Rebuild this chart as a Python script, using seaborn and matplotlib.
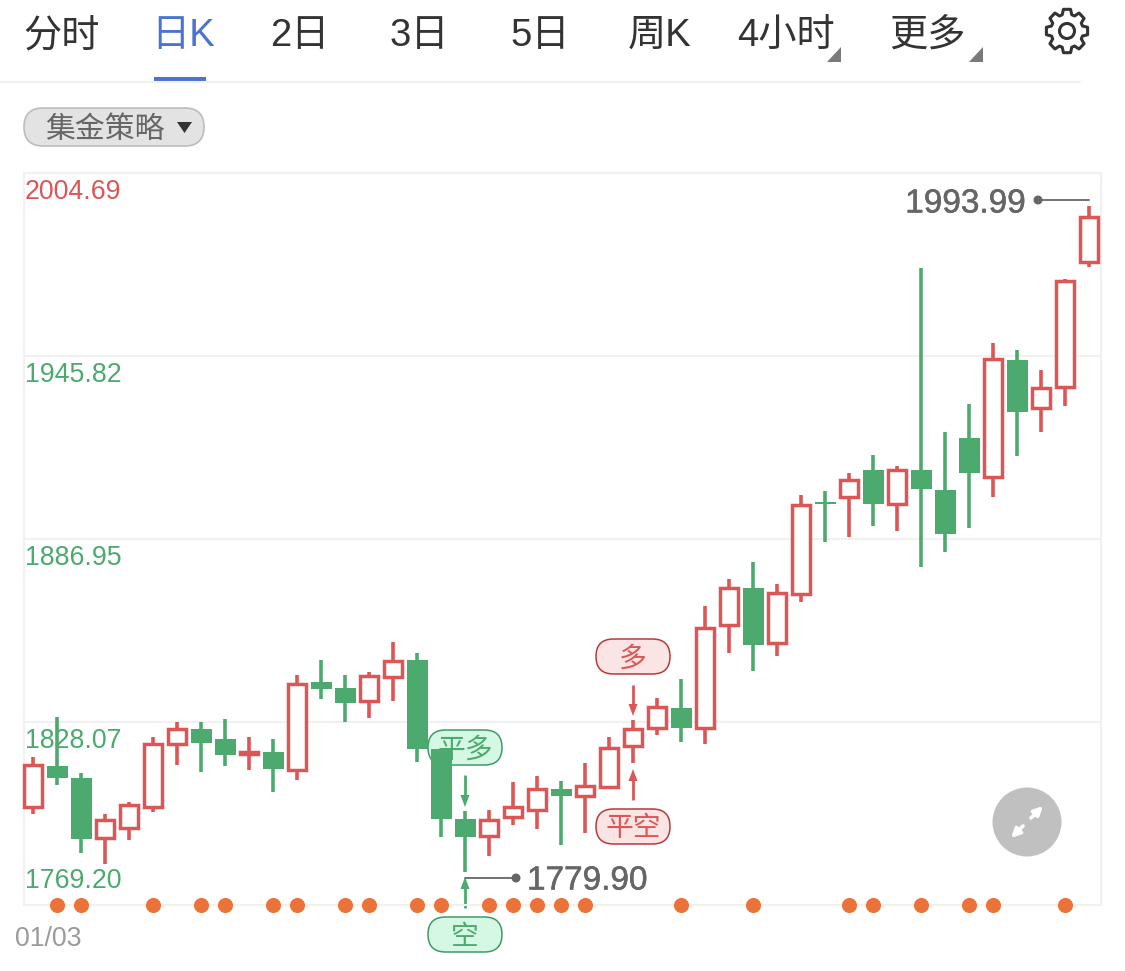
import numpy as np
import pandas as pd
import matplotlib
matplotlib.use("Agg")
import matplotlib.pyplot as plt
import matplotlib.patheffects as pe
from matplotlib.patches import FancyBboxPatch, Polygon, Circle
import seaborn as sns

# ---------- data ----------
highs = [1816.8,1829.7,1811.7,1798.5,1802.3,1823.2,1828.1,1828.1,1829.0,1823.2,1822.6,1843.2,1848.0,1843.2,1844.2,
         1853.8,1850.3,1819.4,1799.4,1799.8,1808.8,1810.7,1809.1,1814.9,1823.2,1828.7,1835.8,1841.9,1865.4,1874.1,
         1879.5,1872.5,1901.1,1902.4,1908.2,1914.0,1910.4,1974.1,1921.4,1930.4,1950.0,1947.7,1941.3,1970.6,1993.99]
lows = [1798.5,1807.8,1785.9,1782.4,1790.1,1799.1,1814.2,1812.0,1813.9,1812.6,1805.6,1809.4,1835.5,1828.1,1829.4,
        1834.8,1815.2,1791.1,1779.90,1785.0,1794.9,1793.6,1788.5,1792.4,1806.8,1814.9,1823.9,1821.6,1821.0,1850.3,
        1844.5,1849.3,1866.7,1886.0,1887.6,1891.1,1889.5,1877.9,1882.8,1890.5,1900.5,1913.6,1921.4,1929.7,1974.4]
body_tops = [1814.6,1813.9,1810.1,1796.9,1801.7,1821.3,1826.1,1825.8,1822.6,1818.7,1818.4,1840.6,1840.9,1839.0,1843.2,
             1848.0,1848.0,1819.4,1796.9,1796.9,1801.0,1806.8,1806.5,1807.8,1820.0,1826.1,1833.2,1832.6,1858.6,1871.5,
             1871.2,1869.9,1898.2,1898.8,1906.2,1909.1,1909.5,1909.1,1902.7,1919.4,1945.2,1944.5,1935.8,1970.3,1990.9]
body_bottoms = [1800.4,1810.1,1790.4,1790.4,1793.6,1800.4,1820.7,1821.3,1817.5,1817.5,1813.0,1812.3,1838.7,1834.2,1834.5,
                1842.2,1819.4,1796.9,1791.1,1791.1,1797.2,1799.4,1804.3,1803.9,1806.8,1820.0,1825.8,1826.1,1825.8,1859.0,
                1852.8,1853.2,1868.9,1898.2,1900.1,1898.2,1897.9,1903.0,1888.6,1908.2,1906.6,1927.8,1928.8,1935.5,1975.7]
directions = ["up","down","down","up","up","up","up","down","down","up","down","up","down","down","up",
              "up","down","down","down","up","up","up","down","up","up","up","up","down","up","up",
              "down","up","up","down","up","down","up","down","down","down","up","down","up","up","up"]
signal_days = [1,2,5,7,8,10,11,13,14,16,17,19,20,21,22,23,27,30,34,35,37,39,40,43]
grid_prices = [2004.69,1945.82,1886.95,1828.07,1769.20]
price_labels = ["2004.69","1945.82","1886.95","1828.07","1769.20"]
tabs = ["分时","日K","2日","3日","5日","周K","4小时","更多"]
date_label = "01/03"
strategy_label = "集金策略"
max_label = "1993.99"
min_label = "1779.90"

RED = "#dc5656"; GREEN = "#4caa6e"; GRID = "#f1f1f1"; DOT = "#ec7338"
LATIN_CJK = ["Liberation Sans", "Noto Sans CJK SC", "DejaVu Sans"]

sns.set_theme(style="white")
plt.rcParams["font.family"] = LATIN_CJK

W, H = 1125, 971
fig = plt.figure(figsize=(W/100, H/100), dpi=100, facecolor="white")

# pixel-space layer for the page chrome
bg = fig.add_axes([0,0,1,1], zorder=0)
bg.set_xlim(0,W); bg.set_ylim(H,0); bg.axis("off")

# chart axes
L, R, T, B = 24, 1101, 173, 905
ax = fig.add_axes([L/W, 1-B/H, (R-L)/W, (B-T)/H], zorder=1)
ax.patch.set_alpha(0)
step = 24.0
ax.set_xlim((L-33)/step, (R-33)/step)
ax.set_ylim(grid_prices[-1], grid_prices[0])
ax.set_xticks([]); ax.set_yticks([])
for s in ax.spines.values():
    s.set_color(GRID); s.set_linewidth(1.5); s.set_zorder(0)
for p in grid_prices[1:-1]:
    ax.axhline(p, color=GRID, lw=1.5, zorder=0)

df = pd.DataFrame({"i": np.arange(len(highs)), "high": highs, "low": lows,
                   "top": body_tops, "bottom": body_bottoms, "dir": directions})
up = df[df["dir"] == "up"]
down = df[df["dir"] == "down"]

inset = 0.35
ax.vlines(up["i"], up["low"], up["high"], color=RED, lw=2.6, zorder=2)
ax.bar(up["i"], (up["top"]-up["bottom"]-2*inset).clip(lower=0.1), bottom=up["bottom"]+inset, width=0.74,
       facecolor="white", edgecolor=RED, linewidth=2.5, zorder=3, clip_on=False)
ax.vlines(down["i"], down["low"], down["high"], color=GREEN, lw=2.6, zorder=2)
ax.bar(down["i"], (down["top"]-down["bottom"]).clip(lower=0.6), bottom=down["bottom"], width=0.875,
       facecolor=GREEN, edgecolor="none", zorder=3)

dots = pd.DataFrame({"i": signal_days, "p": grid_prices[-1]})
sns.scatterplot(data=dots, x="i", y="p", color=DOT, s=118, linewidth=0, ax=ax, clip_on=False, zorder=4, legend=False)
ax.set_xlabel(""); ax.set_ylabel("")

# price labels
offs = [-19, -19, -19, -19, 24]
for p, lab, off in zip(grid_prices, price_labels, offs):
    c = RED if lab == price_labels[0] else GREEN
    dy = off * 0.72
    ax.annotate(lab, xy=(0, p), xycoords=ax.get_yaxis_transform(), xytext=(0.5, dy), textcoords="offset points",
                fontsize=19.3, color=c, ha="left", va="center", zorder=1, annotation_clip=False)

# date
bg.text(15, 939, date_label, fontsize=19.3, color="#9b9b9b", ha="left", va="center")

# header
tab_x = [23,151,270,390,510,628,737,889]
for t, x in zip(tabs, tab_x):
    c = "#4a74cf" if t == "日K" else "#333333"
    bg.text(x, 46, t, fontsize=27.5, color=c, ha="left", va="baseline")
bg.plot([154,206],[79,79], color="#4a74cf", lw=2.9, solid_capstyle="butt")
bg.plot([0,1080],[82,82], color=GRID, lw=1.5)
for x0 in (827, 969):
    bg.add_patch(Polygon([[x0+14,47],[x0+14,62],[x0,62]], closed=True, fc="#7a7a7a", ec="none"))

# gear
ang = np.linspace(0, 2*np.pi, 8, endpoint=False) + np.pi/2
pts = []
for a in ang:
    for da, r in [(-0.30,17),(-0.17,22),(0.17,22),(0.30,17)]:
        pts.append([1067+r*np.cos(a+da)*0.95, 31+r*np.sin(a+da)])
bg.add_patch(Polygon(pts, closed=True, fc="none", ec="#333333", lw=2.2, joinstyle="round"))
bg.add_patch(Circle((1067,31), 7.5, fc="none", ec="#333333", lw=2.2))

def pill(x0,y0,x1,y1,fc,ec,lw=1.3):
    h = y1-y0
    bg.add_patch(FancyBboxPatch((x0,y0),x1-x0,h,boxstyle=f"round,pad=0,rounding_size={h/2}",fc=fc,ec=ec,lw=lw))

# strategy pill
pill(24,108,204,146,"#e3e3e3","#bdbdbd",1.2)
bg.text(105,130,strategy_label,fontsize=21.5,color="#666666",ha="center",va="center")
bg.add_patch(Polygon([[177,122],[192,122],[184.5,133]],closed=True,fc="#333333",ec="none"))

# signal pills
GF, GE = "#d5f8e5", "#3f9a66"
RF, RE = "#fbe4e4", "#b23c3c"
for (x0,y0,x1,y1,fc,ec,tc,txt) in [
    (428,730,502,765,GF,GE,GREEN,"平多"),
    (428,917,502,952,GF,GE,GREEN,"空"),
    (596,639,670,674,RF,RE,RED,"多"),
    (596,809,670,844,RF,RE,RED,"平空")]:
    pill(x0,y0,x1,y1,fc,ec,1.1)
    bg.text((x0+x1)/2,(y0+y1)/2+3,txt,fontsize=20,color=tc,ha="center",va="center")

def arrow(x,y0,y1,c):
    d = 1 if y1>y0 else -1
    bg.plot([x,x],[y0,y1-d*10],color=c,lw=2,solid_capstyle="butt")
    bg.add_patch(Polygon([[x-4.5,y1-d*12],[x+4.5,y1-d*12],[x,y1]],closed=True,fc=c,ec="none"))
arrow(465,775,807,GREEN)
arrow(465,908,877,GREEN)
arrow(633,685,716,RED)
arrow(633,800,769,RED)

# extreme labels
GR = "#666666"
heavy = [pe.withStroke(linewidth=0.4, foreground=GR)]
bg.plot([465,516],[878,878],color=GR,lw=1.3)
bg.add_patch(Circle((516,878),4.5,fc=GR,ec="none"))
bg.text(527,881,min_label,fontsize=24,color=GR,ha="left",va="center",path_effects=heavy)
bg.plot([1038,1089],[200,200],color=GR,lw=1.3)
bg.add_patch(Circle((1038,200),4.5,fc=GR,ec="none"))
bg.text(1026,204,max_label,fontsize=24,color=GR,ha="right",va="center",path_effects=heavy)

# expand button
bg.add_patch(Circle((1027,822),34.5,fc="#c0c0c0",ec="none"))
for sx,sy in ((1,-1),(-1,1)):
    bg.annotate("",xy=(1027+sx*16,822+sy*16),xytext=(1027+sx*4,822+sy*4),
                arrowprops=dict(arrowstyle="-|>",color="white",lw=2.6,mutation_scale=13,shrinkA=0,shrinkB=0))

fig.savefig("out.png", dpi=100)
